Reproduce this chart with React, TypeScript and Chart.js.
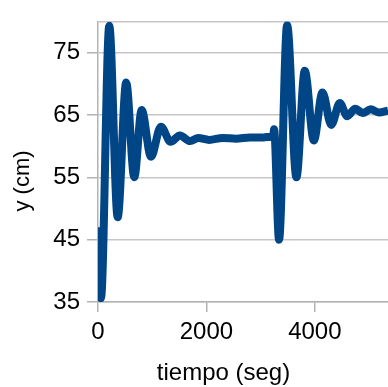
import React, { useEffect, useRef } from "react";
import { Chart, registerables } from "chart.js";

Chart.register(...registerables);

// time (s) and level y (cm) at the turning points of the curve
const timeValues = [
  0, 55, 208, 363, 520, 669, 805, 977, 1160, 1340, 1510, 1700, 1850, 2050, 2300, 2550, 2800, 3050, 3200, 3232,
  3248, 3340, 3489, 3660, 3815, 3981, 4141, 4303, 4460, 4598, 4746, 4884, 5031, 5179, 5350,
];
const levelValues = [
  47.0, 35.6, 79.3, 48.6, 70.2, 55.0, 65.8, 58.3, 63.1, 60.7, 61.7, 60.8, 61.3, 61.0, 61.3, 61.2, 61.4, 61.4, 61.5, 61.4,
  62.7, 45.0, 79.4, 55.0, 72.1, 60.9, 68.6, 63.4, 66.9, 64.8, 66.0, 65.3, 65.9, 65.4, 65.7,
];

const xTickValues = [0, 2000, 4000];
const yTickValues = [35, 45, 55, 65, 75, 80];
const yLabeledTicks = [35, 45, 55, 65, 75];
const xMin = 0;
const xMax = 5350;
const yMin = 35;
const yMax = 80;

const xTitle = "tiempo (seg)";
const yTitle = "y (cm)";

const lineColor = "#004586";
const gridColor = "#c6c6c6";
const axisColor = "#b3b3b3";
const fontFamily = '"Liberation Sans", Arial, sans-serif';

const titlePlugin = {
  id: "axisTitlesCustom",
  afterDraw(chart: any) {
    const ctx = chart.ctx;
    ctx.save();
    ctx.fillStyle = "#000000";
    ctx.textAlign = "center";
    ctx.textBaseline = "alphabetic";
    ctx.font = `24px ${fontFamily}`;
    ctx.fillText(xTitle, 223.5, 380);
    ctx.translate(29, 181);
    ctx.rotate(-Math.PI / 2);
    ctx.font = `22px ${fontFamily}`;
    ctx.fillText(yTitle, 0, 0);
    ctx.restore();
  },
};

export default function App() {
  const canvasRef = useRef<HTMLCanvasElement | null>(null);

  useEffect(() => {
    if (!canvasRef.current) return;
    const points = timeValues.map((t, i) => ({ x: t, y: levelValues[i] }));
    const chart = new Chart(canvasRef.current, {
      type: "line",
      data: {
        datasets: [
          {
            data: points,
            borderColor: lineColor,
            backgroundColor: lineColor,
            borderWidth: 8,
            pointRadius: 0,
            fill: false,
            cubicInterpolationMode: "monotone",
            borderJoinStyle: "round",
          },
        ],
      },
      options: {
        animation: false,
        responsive: false,
        maintainAspectRatio: false,
        layout: { padding: { left: 0, right: 0, top: 14, bottom: 0 } },
        plugins: {
          legend: { display: false },
          tooltip: { enabled: false },
          title: { display: false },
        },
        scales: {
          x: {
            type: "linear",
            min: xMin,
            max: xMax,
            afterBuildTicks: (scale: any) => {
              scale.ticks = xTickValues.map((v) => ({ value: v }));
            },
            afterFit: (scale: any) => {
              scale.height = 85;
            },
            grid: {
              drawOnChartArea: false,
              drawTicks: true,
              tickLength: 10,
              color: axisColor,
              lineWidth: 1.5,
            },
            border: { display: true, color: axisColor, width: 1.5 },
            ticks: {
              color: "#000000",
              font: { family: fontFamily, size: 24 },
              padding: 6,
              maxRotation: 0,
              autoSkip: false,
              callback: (v: any) => String(v),
            },
          },
          y: {
            type: "linear",
            min: yMin,
            max: yMax,
            afterBuildTicks: (scale: any) => {
              scale.ticks = yTickValues.map((v) => ({ value: v }));
            },
            afterFit: (scale: any) => {
              scale.width = 98;
            },
            grid: {
              drawTicks: true,
              tickLength: 11,
              color: gridColor,
              lineWidth: 1.5,
              tickColor: (ctx: any) =>
                ctx.tick && yLabeledTicks.includes(ctx.tick.value) ? axisColor : "rgba(0,0,0,0)",
            },
            border: { display: true, color: axisColor, width: 1.5 },
            ticks: {
              color: "#000000",
              font: { family: fontFamily, size: 24 },
              padding: 7,
              autoSkip: false,
              callback: (v: any) => (yLabeledTicks.includes(v) ? String(v) : ""),
            },
          },
        },
      },
      plugins: [titlePlugin],
    });
    return () => chart.destroy();
  }, []);

  return (
    <div style={{ position: "absolute", left: 0, top: 0, width: 388, height: 387, background: "#ffffff" }}>
      <canvas ref={canvasRef} width={388} height={387} style={{ display: "block" }} />
    </div>
  );
}
